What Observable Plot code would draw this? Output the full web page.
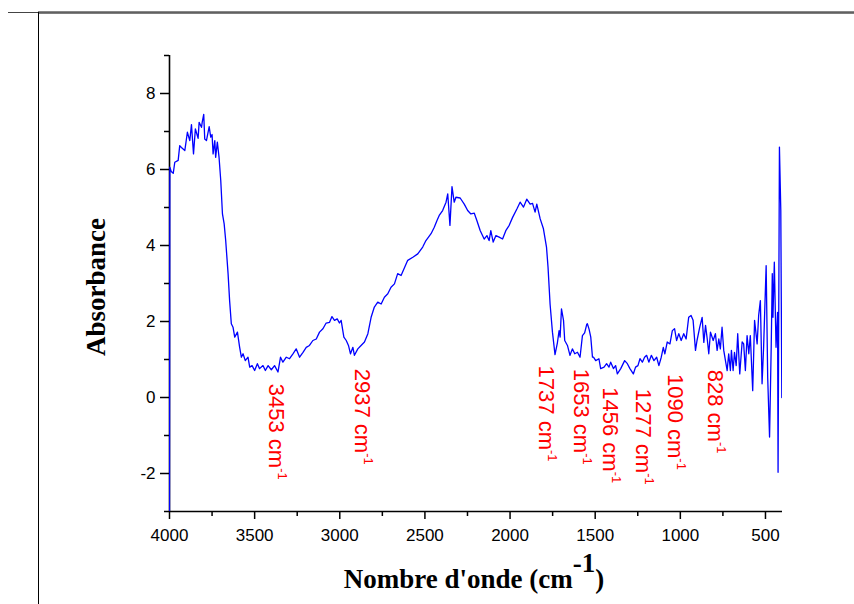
<!DOCTYPE html>
<html>
<head>
<meta charset="utf-8">
<script src="https://cdn.jsdelivr.net/npm/d3@7"></script>
<script src="https://cdn.jsdelivr.net/npm/@observablehq/plot@0.6"></script>
<style>
  html, body { margin: 0; padding: 0; background: #fff; }
  #wrap { position: relative; width: 854px; height: 604px; overflow: hidden; background: #fff; }
  #wrap svg { position: absolute; left: 0; top: 0; }
  .topline-thin { position: absolute; left: 8px; top: 12px; width: 30px; height: 1px; background: #444; }
  .topline-thick { position: absolute; left: 38px; top: 11px; width: 816px; height: 3px; background: linear-gradient(#9a9a9a, #555 60%, #9a9a9a); }
  .leftline { position: absolute; left: 38px; top: 12px; width: 1px; height: 592px; background: #000; }
</style>
</head>
<body>
<div id="wrap"></div>
<script>
// Spectrum: wavenumber (cm-1) and absorbance
const wavenumber = [
  4000, 3998, 3990, 3978, 3969, 3949, 3940, 3930, 3920, 3910, 3906, 3895, 3881, 3871, 3859, 3848,
  3832, 3826, 3812, 3808, 3799, 3793, 3783, 3767, 3758, 3750, 3744, 3734, 3729, 3719, 3709, 3699,
  3689, 3679, 3670, 3656, 3647, 3637, 3627, 3617, 3601, 3588, 3578, 3568, 3555, 3539, 3529, 3515,
  3500, 3484, 3471, 3451, 3437, 3421, 3402, 3383, 3363, 3348, 3334, 3314, 3295, 3275, 3256, 3236,
  3216, 3197, 3178, 3158, 3138, 3119, 3099, 3080, 3060, 3046, 3031, 3015, 3002, 2992, 2976, 2962,
  2949, 2937, 2923, 2914, 2894, 2875, 2855, 2835, 2816, 2797, 2777, 2757, 2738, 2718, 2699, 2679,
  2660, 2640, 2601, 2571, 2542, 2513, 2494, 2464, 2445, 2429, 2416, 2396, 2376, 2366, 2353, 2341,
  2328, 2318, 2293, 2269, 2249, 2230, 2210, 2195, 2175, 2152, 2136, 2123, 2113, 2099, 2083, 2064,
  2044, 2025, 2005, 1985, 1960, 1941, 1921, 1902, 1882, 1868, 1853, 1843, 1823, 1804, 1786, 1777,
  1765, 1751, 1736, 1722, 1712, 1706, 1698, 1686, 1679, 1663, 1648, 1634, 1620, 1604, 1589, 1575,
  1562, 1550, 1546, 1536, 1526, 1516, 1510, 1497, 1478, 1468, 1448, 1433, 1419, 1409, 1393, 1380,
  1370, 1350, 1327, 1311, 1296, 1276, 1263, 1249, 1237, 1223, 1210, 1198, 1185, 1170, 1155, 1139,
  1126, 1112, 1100, 1091, 1077, 1061, 1047, 1034, 1022, 1009, 995, 980, 966, 951, 937, 925,
  911, 902, 886, 872, 862, 852, 842, 833, 823, 807, 794, 784, 774, 765, 755, 745,
  735, 725, 716, 706, 700, 690, 682, 672, 663, 651, 637, 628, 618, 608, 598, 589,
  575, 564, 549, 540, 530, 520, 511, 496, 487, 476, 466, 460, 456, 448, 438, 429,
  426, 418, 410, 404
];
const absorbance = [
  -3.0, 6.06, 5.95, 5.90, 6.19, 6.24, 6.63, 6.58, 6.54, 6.50, 6.63, 6.98, 6.76, 7.18, 6.41, 7.07,
  6.82, 7.24, 7.11, 7.24, 7.45, 6.80, 6.76, 7.13, 6.85, 6.92, 6.41, 6.76, 6.32, 6.72, 6.32, 5.71,
  4.83, 4.57, 4.13, 3.26, 2.55, 1.94, 1.85, 1.59, 1.72, 1.32, 1.06, 1.15, 0.97, 1.06, 0.80, 0.84,
  0.71, 0.89, 0.76, 0.84, 0.71, 0.84, 0.73, 0.84, 0.67, 1.06, 0.93, 1.06, 1.02, 1.15, 1.28, 1.06,
  1.19, 1.32, 1.37, 1.50, 1.54, 1.72, 1.81, 1.96, 1.98, 2.13, 2.03, 2.07, 1.96, 2.03, 1.59, 1.50,
  1.37, 1.15, 1.32, 1.11, 1.28, 1.37, 1.46, 1.68, 2.11, 2.38, 2.51, 2.46, 2.64, 2.73, 2.90, 2.99,
  3.26, 3.21, 3.61, 3.69, 3.78, 3.96, 4.13, 4.31, 4.48, 4.66, 4.79, 4.92, 5.14, 5.36, 4.53, 5.55,
  5.14, 5.27, 5.25, 5.09, 4.92, 4.83, 4.85, 4.66, 4.39, 4.17, 4.26, 4.13, 4.39, 4.09, 4.26, 4.22,
  4.17, 4.39, 4.53, 4.74, 4.96, 5.14, 5.01, 5.22, 5.09, 5.11, 4.88, 5.09, 4.70, 4.44, 3.96, 3.43,
  2.46, 1.72, 1.13, 1.44, 1.76, 1.59, 2.33, 2.03, 1.50, 1.37, 1.11, 1.28, 1.15, 1.19, 1.06, 1.63,
  1.70, 1.92, 1.94, 1.80, 1.59, 1.06, 1.06, 0.97, 1.02, 0.76, 0.80, 0.89, 0.80, 0.93, 0.76, 0.84,
  0.62, 0.76, 0.97, 0.89, 0.76, 0.62, 0.80, 0.84, 1.02, 0.93, 1.06, 1.11, 0.93, 1.11, 0.97, 1.06,
  0.84, 1.06, 1.32, 1.15, 1.46, 1.41, 1.76, 1.81, 1.50, 1.68, 1.50, 1.68, 1.54, 2.11, 2.16, 2.03,
  1.24, 1.50, 1.85, 2.11, 1.45, 1.90, 1.54, 1.15, 1.72, 1.50, 1.68, 1.24, 1.54, 1.28, 1.85, 1.24,
  0.97, 0.71, 1.15, 0.71, 1.24, 0.71, 1.19, 0.84, 1.68, 0.62, 1.46, 1.41, 0.71, 1.63, 1.15, 1.63,
  0.18, 2.03, 1.41, 2.16, 2.55, 0.36, 1.32, 3.47, 0.53, -1.04, 1.41, 3.26, 2.11, 3.56, 1.32, 2.24,
  -1.97, 6.59, 4.92, 0.00
];

// Peak annotations
const peakText = ["3453", "2937", "1737", "1653", "1456", "1277", "1090", "828"];
const peakLabelX = [3377, 2872, 1788, 1585, 1414, 1218, 1030, 794];
const peakLabelY = [0.36, 0.755, 0.84, 0.755, 0.27, 0.23, 0.62, 0.73];

// Ticks
const xMajorTicks = [4000, 3500, 3000, 2500, 2000, 1500, 1000, 500];
const xMinorTicks = [3750, 3250, 2750, 2250, 1750, 1250, 750];
const yMajorTicks = [-2, 0, 2, 4, 6, 8];
const yMinorTicks = [-3, -1, 1, 3, 5, 7, 9];

const xTitle = "Nombre d'onde (cm";
const xTitleSup = "-1";
const yTitle = "Absorbance";
const unitSup = "-1";

const spectrum = wavenumber.map((w, i) => ({w, a: absorbance[i]}));
const peaks = peakText.map((t, i) => ({t: t + " cm", x: peakLabelX[i], y: peakLabelY[i]}));

const fmt = d => String(d);
const sans = "'Liberation Sans', Arial, sans-serif";

const chart = Plot.plot({
  width: 854,
  height: 604,
  marginTop: 55,
  marginBottom: 93,
  marginLeft: 169,
  marginRight: 72,
  style: {fontFamily: sans, fontSize: "17px", background: "transparent", color: "#000"},
  x: {domain: [4000, 400], label: null},
  y: {domain: [-3, 9], label: null},
  marks: [
    Plot.ruleX([4000], {stroke: "#000", strokeWidth: 1.6}),
    Plot.ruleY([-3], {stroke: "#000", strokeWidth: 1.6}),
    Plot.axisX(xMajorTicks, {tickSize: 8, tickPadding: 9, tickFormat: fmt, label: null, strokeWidth: 1.5, fontSize: 17}),
    Plot.axisX(xMinorTicks, {tickSize: 5, text: null, label: null, strokeWidth: 1.5}),
    Plot.axisY(yMajorTicks, {tickSize: 9, tickPadding: 5, tickFormat: fmt, label: null, strokeWidth: 1.5, fontSize: 17}),
    Plot.axisY(yMinorTicks, {tickSize: 5, text: null, label: null, strokeWidth: 1.5}),
    Plot.line(spectrum, {x: "w", y: "a", stroke: "#0000ff", strokeWidth: 1.3, clip: true}),
    Plot.text(peaks, {x: "x", y: "y", text: "t", rotate: 90, textAnchor: "start", fill: "#ff0000",
      fontSize: 22, fontFamily: sans})
  ]
});

document.getElementById("wrap").appendChild(chart);

const svg = d3.select(chart);
// superscripts on peak labels
svg.selectAll("text").filter(function() {
  return / cm$/.test(this.textContent);
}).each(function() {
  d3.select(this).append("tspan").attr("dy", "-9").attr("font-size", 13).text(unitSup);
});

// axis titles
const serif = "'Liberation Serif', 'Times New Roman', serif";
const xt = svg.append("text")
  .attr("x", 474).attr("y", 588)
  .attr("text-anchor", "middle")
  .attr("font-family", serif).attr("font-weight", "bold").attr("font-size", 27).attr("fill", "#000");
xt.append("tspan").text(xTitle);
xt.append("tspan").attr("dy", -16).attr("font-size", 27).text(xTitleSup);
xt.append("tspan").attr("dy", 16).text(")");

svg.append("text")
  .attr("transform", "translate(105,287) rotate(-90)")
  .attr("text-anchor", "middle")
  .attr("font-family", serif).attr("font-weight", "bold").attr("font-size", 27).attr("fill", "#000")
  .text(yTitle);

// page frame decorations
const wrap = document.getElementById("wrap");
["topline-thin", "topline-thick", "leftline"].forEach(c => {
  const d = document.createElement("div"); d.className = c; wrap.appendChild(d);
});
</script>
</body>
</html>
